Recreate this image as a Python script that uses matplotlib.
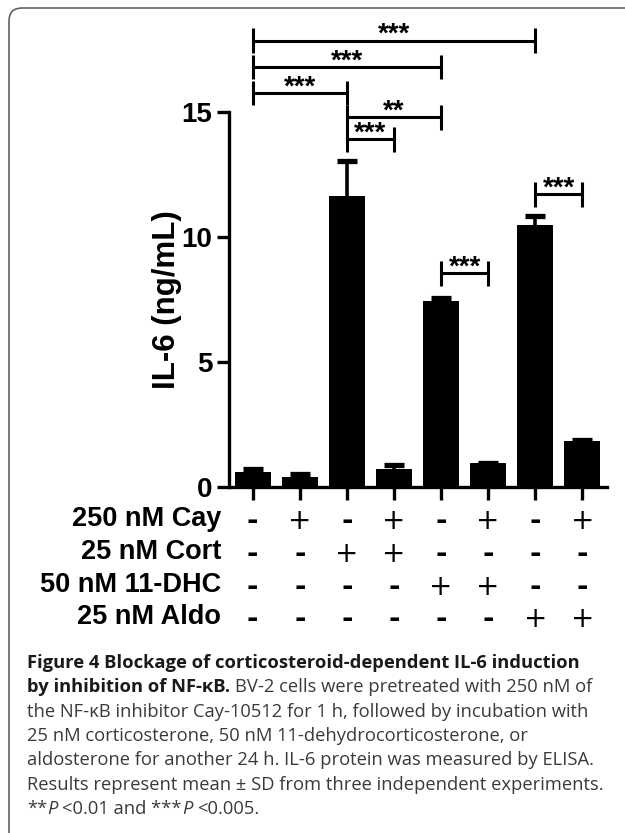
import numpy as np
import matplotlib
matplotlib.use('Agg')
import matplotlib.pyplot as plt
from matplotlib.patches import FancyBboxPatch
from matplotlib.transforms import IdentityTransform

# IL-6 (ng/mL), mean and SD per group
il6_mean = [0.60, 0.43, 11.65, 0.73, 7.45, 0.96, 10.50, 1.85]
il6_sd = [0.14, 0.10, 1.40, 0.16, 0.10, 0.03, 0.36, 0.04]

# treatment table under the bars
row_labels = ['250 nM Cay', '25 nM Cort', '50 nM 11-DHC', '25 nM Aldo']
cay = ['-', '+', '-', '+', '-', '+', '-', '+']
cort = ['-', '-', '+', '+', '-', '-', '-', '-']
dhc = ['-', '-', '-', '-', '+', '+', '-', '-']
aldo = ['-', '-', '-', '-', '-', '-', '+', '+']

# significance brackets (bar index left/right, height, stars)
sig_left = [0, 0, 0, 2, 2, 4, 6]
sig_right = [6, 4, 2, 4, 3, 5, 7]
sig_y = [17.85, 16.79, 15.75, 14.79, 13.91, 8.55, 11.71]
sig_text = ['***', '***', '***', '**', '***', '***', '***']

yticks = [0, 5, 10, 15]

# caption lines, each a list of (text, style)
caption = [
    [('Figure 4 Blockage of corticosteroid-dependent IL-6 induction', 'b')],
    [('by inhibition of NF-\u03baB.', 'b'), ('BV-2 cells were pretreated with 250 nM of', 'r')],
    [('the NF-\u03baB inhibitor Cay-10512 for 1 h, followed by incubation with', 'r')],
    [('25 nM corticosterone, 50 nM 11-dehydrocorticosterone, or', 'r')],
    [('aldosterone for another 24 h. IL-6 protein was measured by ELISA.', 'r')],
    [('Results represent mean \u00b1 SD from three independent experiments.', 'r')],
    [('**', 'r'), ('P', 'i'), ('<0.01 and ***', 'r'), ('P', 'i'), ('<0.005.', 'r')],
]

plt.rcParams['font.family'] = 'Liberation Sans'

W, H = 625, 833
fig = plt.figure(figsize=(W / 100, H / 100), dpi=100)

# frame around the figure
frame = FancyBboxPatch((9, -40), 720, H - 8 + 40, boxstyle='round,pad=0,rounding_size=13',
                       transform=IdentityTransform(), fill=False, edgecolor='#555555', linewidth=1.1)
fig.add_artist(frame)

ymax = 19
ax = fig.add_axes([228.5 / W, (H - 487.3) / H, 378.2 / W, ymax * 25.02 / H])
x = np.arange(len(il6_mean))

ax.bar(x, il6_mean, width=0.765, color='black', zorder=2)
eb = ax.errorbar(x, il6_mean, yerr=[np.zeros(len(il6_sd)), il6_sd], fmt='none', ecolor='black',
                 elinewidth=2.6, capsize=7.5, capthick=3.8, zorder=3)
eb[1][0].set_visible(False)  # only upper error bars

ax.set_xlim(-0.515, 7.518)
ax.set_ylim(0, ymax)
ax.spines['top'].set_visible(False)
ax.spines['right'].set_visible(False)
ax.spines['left'].set_bounds(0, 15)
ax.spines['left'].set_linewidth(2.4)
ax.spines['bottom'].set_linewidth(2.4)
ax.set_yticks(yticks)
ax.set_yticklabels([str(t) for t in yticks], fontsize=20, fontweight='bold')
ax.set_xticks(x)
ax.set_xticklabels([])
ax.tick_params(axis='both', direction='out', length=9, width=2.4, pad=2.6)
ax.set_ylabel('IL-6 (ng/mL)', fontsize=22.5, fontweight='bold')
ax.yaxis.set_label_coords((181.5 - 228.5) / 378.2, 7.5 / ymax)

# significance brackets
half = 0.49
for a, b, y, s in zip(sig_left, sig_right, sig_y, sig_text):
    kw = dict(color='black', lw=2.2, solid_capstyle='butt', clip_on=False, zorder=4)
    ax.plot([a, b], [y, y], **kw)
    ax.plot([a, a], [y - half, y + half], **kw)
    ax.plot([b, b], [y - half, y + half], **kw)
    ax.annotate(s, xy=((a + b) / 2, y), xytext=(0, -0.8), textcoords='offset points',
                ha='center', va='baseline', fontsize=20, fontweight='bold', annotation_clip=False)

# treatment table
px = 1 / 25.02  # one pixel in data units (y)
row0 = -(526 - 487.3) * px
row_step = 32.8 * px
for r, (label, signs) in enumerate(zip(row_labels, [cay, cort, dhc, aldo])):
    yb = row0 - r * row_step
    ax.text(-0.674, yb, label, ha='right', va='baseline', fontsize=19.5, fontweight='bold', clip_on=False)
    for i, s in enumerate(signs):
        ax.text(x[i], yb - 3 * px, s, ha='center', va='baseline', fontsize=20, family='DejaVu Sans',
                fontweight='normal' if s == '+' else 'bold', clip_on=False)

# caption
fig.canvas.draw()
renderer = fig.canvas.get_renderer()
cap_font = 'Open Sans'
cap_size = 13.2
styles = {
    'b': dict(fontweight='bold', color='#1a1a1a'),
    'r': dict(fontweight='normal', color='#3a3a3a'),
    'i': dict(fontweight='normal', fontstyle='italic', color='#3a3a3a'),
}


def text_width(s, style):
    t = fig.text(0, 0, s, family=cap_font, fontsize=cap_size, transform=IdentityTransform(), **styles[style])
    w = t.get_window_extent(renderer).width
    t.remove()
    return w


space = text_width('a a', 'r') - text_width('aa', 'r')
base0 = 668
step = 24.3
for k, pieces in enumerate(caption):
    xpos = 27
    ybase = H - (base0 + k * step)
    for j, (s, st) in enumerate(pieces):
        t = fig.text(xpos, ybase, s, family=cap_font, fontsize=cap_size, va='baseline',
                     transform=IdentityTransform(), **styles[st])
        xpos += t.get_window_extent(renderer).width
        # a space after each piece, except before an italic P
        if j + 1 < len(pieces) and pieces[j + 1][1] != 'i':
            xpos += space

fig.savefig('out.png', dpi=100)
